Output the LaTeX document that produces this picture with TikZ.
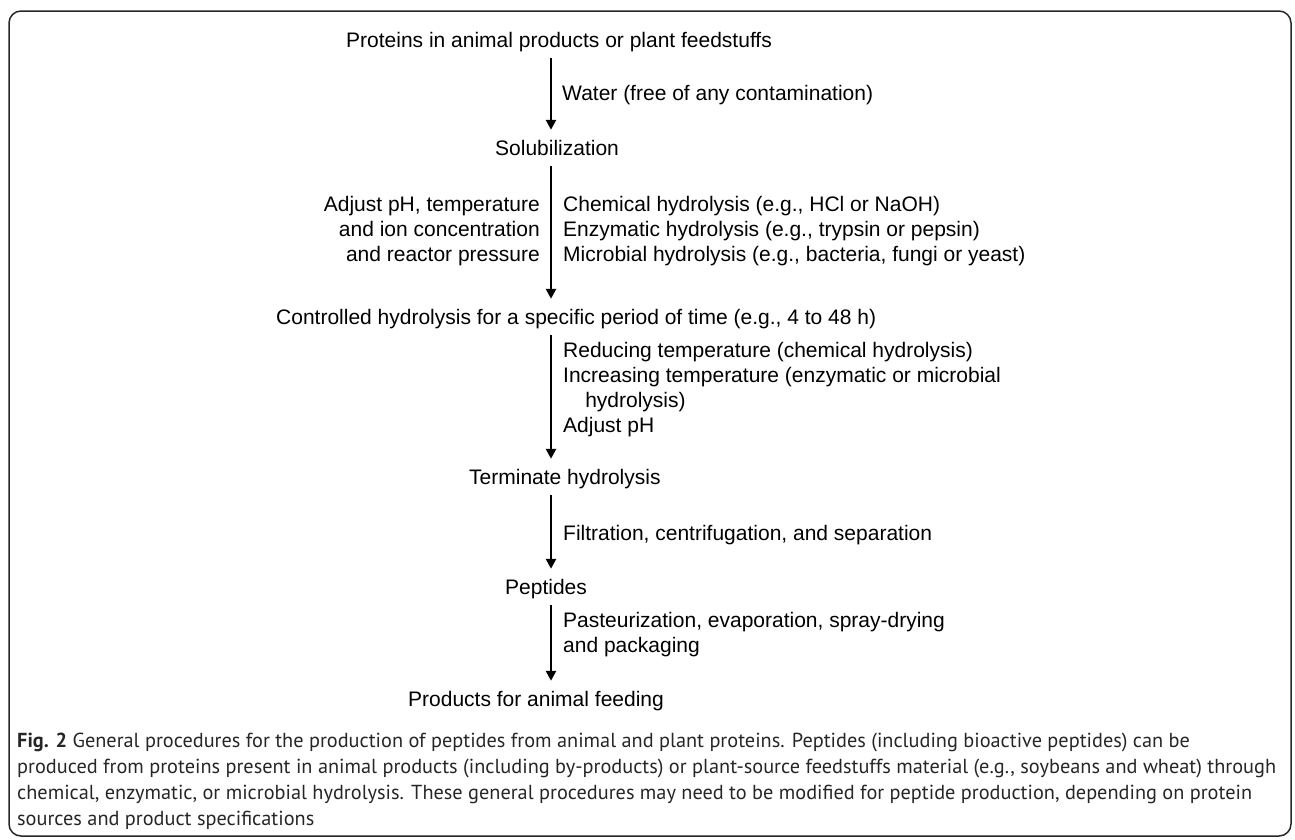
\documentclass[tikz,border=0pt]{standalone}
\usepackage{fontspec}
\setmainfont{Liberation Sans}
\newfontfamily\capfont{PT Sans}
\usetikzlibrary{arrows.meta}
\begin{document}
\begin{tikzpicture}[x=1pt,y=-1pt,
  stepnode/.style={inner sep=0pt, anchor=base west, font=\fontsize{21}{25}\selectfont, text height=15pt, text depth=4.5pt},
  lbl/.style={inner sep=0pt, font=\fontsize{21}{25}\selectfont, align=left},
  lblr/.style={inner sep=0pt, font=\fontsize{21}{25}\selectfont, align=right},
  flow/.style={line width=2.8pt, -{Triangle[length=10pt,width=10pt]}, shorten <=6pt, shorten >=10pt},
  frame/.style={line width=1.5pt, rounded corners=12pt, draw=black!85},
  caption/.style={inner sep=0pt, anchor=north west, align=left, text=black!85, font=\capfont\fontsize{20.3}{26}\selectfont}]
\useasboundingbox (0,0) rectangle (1295,839);
\draw[frame] (9,11) rectangle (1291,836);
\coordinate (ax) at (551,0);

\node[stepnode] (t1) at (346,47) {Proteins in animal products or plant feedstuffs};
\node[stepnode] (t2) at (495,155) {Solubilization};
\node[stepnode] (t3) at (276,324) {Controlled hydrolysis for a specific period of time (e.g., 4 to 48 h)};
\node[stepnode] (t4) at (469,484) {Terminate hydrolysis};
\node[stepnode] (t5) at (505,594) {Peptides};
\node[stepnode] (t6) at (408,706) {Products for animal feeding};

\draw[flow] (t1.south -| ax) -- (t2.north -| ax);
\draw[flow] (t2.south -| ax) -- (t3.north -| ax);
\draw[flow] (t3.south -| ax) -- (t4.north -| ax);
\draw[flow] (t4.south -| ax) -- (t5.north -| ax);
\draw[flow] (t5.south -| ax) -- (t6.north -| ax);

\node[lbl, anchor=west] (l1) at (562,95) {Water (free of any contamination)};
\node[lblr, anchor=east] (l2a) at (540,231) {Adjust pH, temperature\\and ion concentration\\and reactor pressure};
\node[lbl, anchor=west] (l2b) at (563,231) {Chemical hydrolysis (e.g., HCl or NaOH)\\Enzymatic hydrolysis (e.g., trypsin or pepsin)\\Microbial hydrolysis (e.g., bacteria, fungi or yeast)};
\node[lbl, anchor=west] (l3) at (563,390) {Reducing temperature (chemical hydrolysis)\\Increasing temperature (enzymatic or microbial\\\hspace*{1.05em}hydrolysis)\\Adjust pH};
\node[lbl, anchor=west] (l4) at (563,535) {Filtration, centrifugation, and separation};
\node[lbl, anchor=west] (l5) at (563,635) {Pasteurization, evaporation, spray-drying\\and packaging};

\node[caption] (cap) at (17,733) {\textbf{Fig. 2} General procedures for the production of peptides from animal and plant proteins. Peptides (including bioactive peptides) can be\\
produced from proteins present in animal products (including by-products) or plant-source feedstuffs material (e.g., soybeans and wheat) through\\
chemical, enzymatic, or microbial hydrolysis. These general procedures may need to be modified for peptide production, depending on protein\\
sources and product specifications};
\end{tikzpicture}
\end{document}
